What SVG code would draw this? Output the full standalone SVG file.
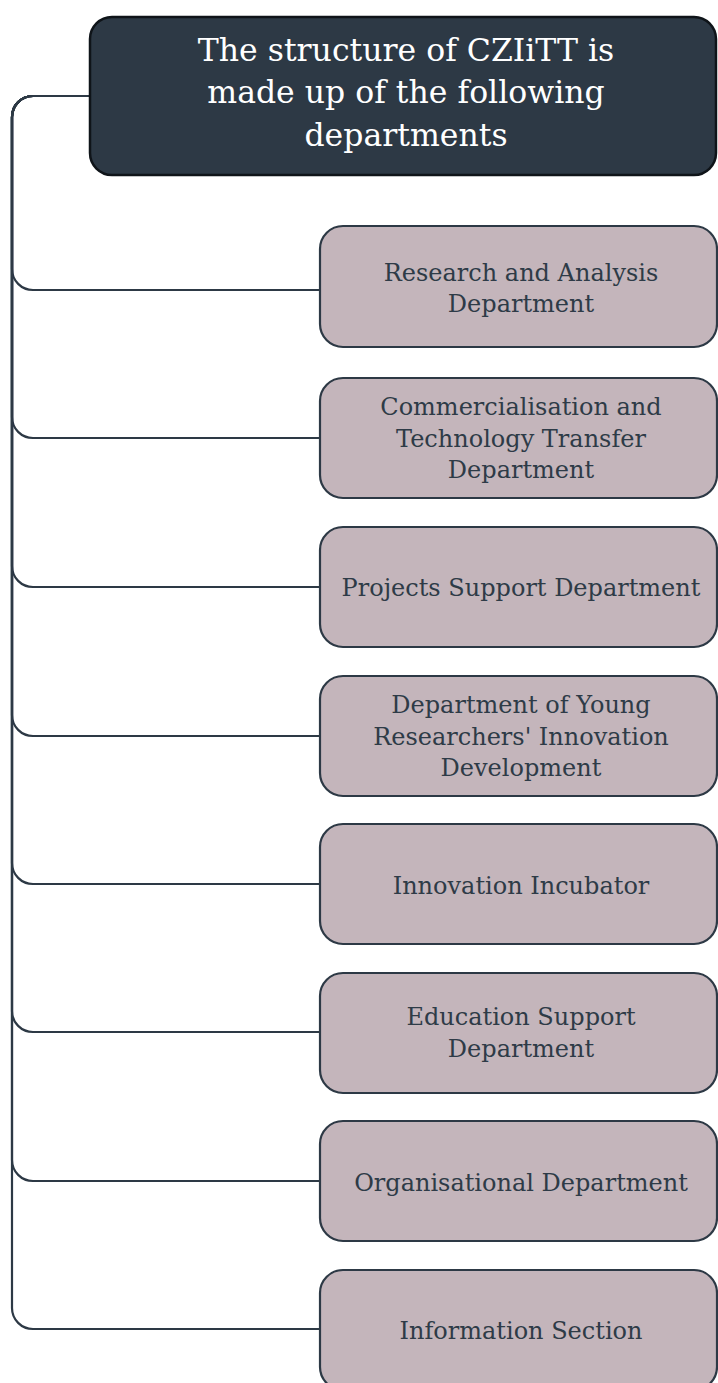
<svg xmlns="http://www.w3.org/2000/svg" width="718" height="1383" viewBox="0 0 718 1383">
<style>
.conn{fill:none;stroke:#2d3945;stroke-width:2.2}
.root{fill:#2d3945;stroke:#0f1419;stroke-width:2.5}
.box{fill:#c4b5bb;stroke:#2d3945;stroke-width:2.2}
.title{font-family:"DejaVu Serif","Liberation Serif",serif;font-size:31.5px;fill:#ffffff;text-anchor:middle}
.lbl{font-family:"DejaVu Serif","Liberation Serif",serif;font-size:24px;fill:#2e3b47;text-anchor:middle}
</style>
<rect width="718" height="1383" fill="#ffffff"/>
<g id="connectors">
<path class="conn" d="M90 96 H33 A21 21 0 0 0 12 117 V269 A21 21 0 0 0 33 290 H320"/>
<path class="conn" d="M90 96 H33 A21 21 0 0 0 12 117 V417 A21 21 0 0 0 33 438 H320"/>
<path class="conn" d="M90 96 H33 A21 21 0 0 0 12 117 V566 A21 21 0 0 0 33 587 H320"/>
<path class="conn" d="M90 96 H33 A21 21 0 0 0 12 117 V715 A21 21 0 0 0 33 736 H320"/>
<path class="conn" d="M90 96 H33 A21 21 0 0 0 12 117 V863 A21 21 0 0 0 33 884 H320"/>
<path class="conn" d="M90 96 H33 A21 21 0 0 0 12 117 V1011 A21 21 0 0 0 33 1032 H320"/>
<path class="conn" d="M90 96 H33 A21 21 0 0 0 12 117 V1160 A21 21 0 0 0 33 1181 H320"/>
<path class="conn" d="M90 96 H33 A21 21 0 0 0 12 117 V1308 A21 21 0 0 0 33 1329 H320"/>
</g>
<g id="root">
<rect class="root" x="90" y="17" width="626" height="158" rx="22"/>
<text class="title" x="406" y="61">The structure of CZIiTT is</text>
<text class="title" x="406" y="103">made up of the following</text>
<text class="title" x="406" y="146">departments</text>
</g>
<g id="n1">
<rect class="box" x="320" y="226" width="397" height="121" rx="23"/>
<text class="lbl" x="521" y="281">Research and Analysis</text>
<text class="lbl" x="521" y="312">Department</text>
</g>
<g id="n2">
<rect class="box" x="320" y="378" width="397" height="120" rx="23"/>
<text class="lbl" x="521" y="415">Commercialisation and</text>
<text class="lbl" x="521" y="447">Technology Transfer</text>
<text class="lbl" x="521" y="478">Department</text>
</g>
<g id="n3">
<rect class="box" x="320" y="527" width="397" height="120" rx="23"/>
<text class="lbl" x="521" y="596">Projects Support Department</text>
</g>
<g id="n4">
<rect class="box" x="320" y="676" width="397" height="120" rx="23"/>
<text class="lbl" x="521" y="713">Department of Young</text>
<text class="lbl" x="521" y="745">Researchers' Innovation</text>
<text class="lbl" x="521" y="776">Development</text>
</g>
<g id="n5">
<rect class="box" x="320" y="824" width="397" height="120" rx="23"/>
<text class="lbl" x="521" y="894">Innovation Incubator</text>
</g>
<g id="n6">
<rect class="box" x="320" y="973" width="397" height="120" rx="23"/>
<text class="lbl" x="521" y="1025">Education Support</text>
<text class="lbl" x="521" y="1057">Department</text>
</g>
<g id="n7">
<rect class="box" x="320" y="1121" width="397" height="120" rx="23"/>
<text class="lbl" x="521" y="1191">Organisational Department</text>
</g>
<g id="n8">
<rect class="box" x="320" y="1270" width="397" height="120" rx="23"/>
<text class="lbl" x="521" y="1339">Information Section</text>
</g>
</svg>
